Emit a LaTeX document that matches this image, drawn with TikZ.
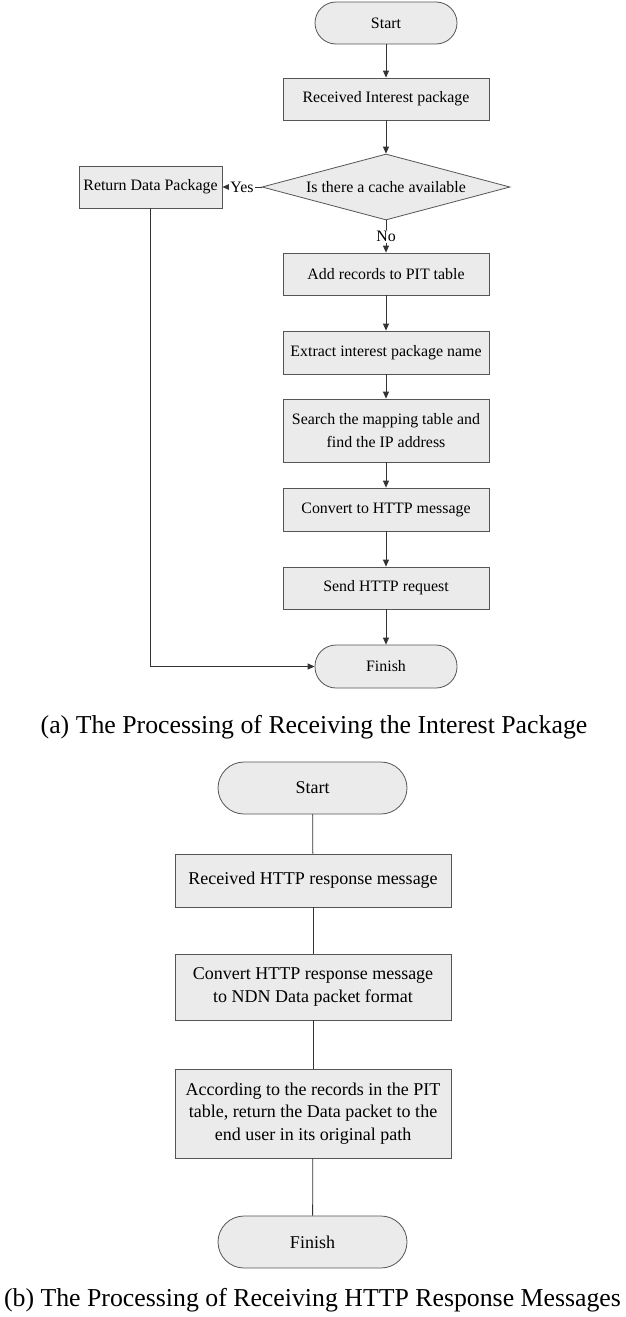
\documentclass[tikz,border=0pt]{standalone}
\usepackage{fontspec}
\setmainfont{Liberation Serif}
\usetikzlibrary{shapes.geometric,arrows.meta}
\definecolor{linec}{HTML}{555555}
\definecolor{arrc}{HTML}{333333}
\definecolor{boxfill}{HTML}{EBEBEB}
\begin{document}
\begin{tikzpicture}[x=1pt,y=-1pt,
  fa/.style={font=\fontsize{15.9}{23}\selectfont},
  fb/.style={font=\fontsize{18}{22.2}\selectfont},
  box/.style={draw=linec, fill=boxfill, line width=0.8pt, inner sep=0pt, align=center},
  boxa/.style={box, fa, minimum width=206pt, minimum height=42pt},
  boxb/.style={box, fb, minimum width=276pt},
  terma/.style={box, fa, minimum width=142pt, minimum height=42pt, rounded corners=21pt},
  termb/.style={box, fb, minimum width=189pt, minimum height=52pt, rounded corners=26pt},
  dec/.style={box, fa, diamond, aspect=3.76, minimum width=248pt, minimum height=66pt},
  arr/.style={draw=arrc, line width=0.8pt, -{Triangle[length=7pt,width=6pt]}},
  ln/.style={draw=arrc, line width=0.8pt},
  lab/.style={fa, fill=white, inner sep=1pt},
  captext/.style={font=\fontsize{25.8}{30}\selectfont, inner sep=0pt}
]
\useasboundingbox (0,0) rectangle (625,1317);
\fill[white] (0,0) rectangle (625,1317);
% (a)
\node[terma] (start) at (386,23) {Start};
\node[boxa] (recv) at (386,99) {Received Interest package};
\node[dec] (cache) at (386,187) {Is there a cache available};
\node[boxa, minimum width=143pt] (ret) at (150.5,187) {Return Data Package};
\node[boxa] (add) at (386,274) {Add records to PIT table};
\node[boxa, minimum height=43pt] (extr) at (386,352.5) {Extract interest package name};
\node[boxa, minimum height=63pt] (search) at (386,430.5) {Search the mapping table and\\find the IP address};
\node[boxa, minimum height=43pt] (conv) at (386,509.5) {Convert to HTTP message};
\node[boxa] (send) at (386,588) {Send HTTP request};
\node[terma, minimum height=43pt] (fin) at (386,666.5) {Finish};
\node[captext] (capa) at (314,727) {(a) The Processing of Receiving the Interest Package};
\draw[arr] (start) -- (recv);
\draw[arr] (recv) -- (cache);
\draw[arr] (cache.west) -- node[lab] {Yes} (ret.east);
\draw[arr] (cache.south) -- node[lab] {No} (add.north);
\draw[arr] (add) -- (extr);
\draw[arr] (extr) -- (search);
\draw[arr] (search) -- (conv);
\draw[arr] (conv) -- (send);
\draw[arr] (send) -- (fin);
\draw[arr] (ret.south) |- (fin.west);
% (b)
\node[termb] (startb) at (312.5,788) {Start};
\node[boxb, minimum height=53pt] (recvb) at (313,880.5) {Received HTTP response message};
\node[boxb, minimum height=66pt] (convb) at (313,987) {Convert HTTP response message\\to NDN Data packet format};
\node[boxb, minimum height=89pt] (accb) at (313,1113.5) {According to the records in the PIT\\table, return the Data packet to the\\end user in its original path};
\node[termb] (finb) at (312.5,1242) {Finish};
\node[captext] (capb) at (312.5,1300) {(b) The Processing of Receiving HTTP Response Messages};
\draw[ln] (startb) -- (recvb);
\draw[ln] (recvb) -- (convb);
\draw[ln] (convb) -- (accb);
\draw[ln] (accb) -- (finb);
\end{tikzpicture}
\end{document}
